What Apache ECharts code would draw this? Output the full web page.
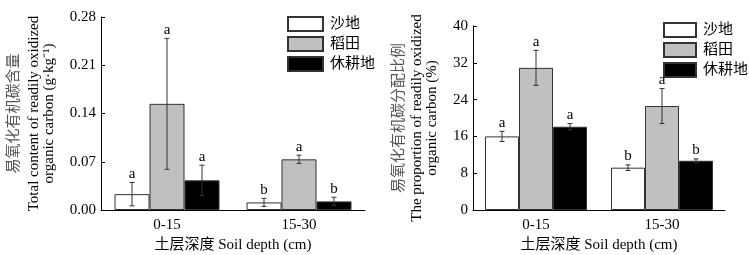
<!DOCTYPE html>
<html>
<head>
<meta charset="utf-8">
<script src="https://cdn.jsdelivr.net/npm/echarts@6/dist/echarts.min.js"></script>
<style>
  body { margin: 0; background: #fff; }
  #wrap { width: 749px; height: 255px; position: relative; }
  #hlyt, #blzb { position: absolute; top: 0; height: 255px; }
  #hlyt { left: 0; width: 380px; }
  #blzb { left: 380px; width: 369px; }
</style>
</head>
<body>
<div id="wrap">
  <div id="hlyt"></div>
  <div id="blzb"></div>
</div>
<script>
// data (per land type, per depth)
const depths = ["0-15", "15-30"];
const landTypes = ["沙地", "稻田", "休耕地"];
const contentMean = [[0.023, 0.011], [0.154, 0.0735], [0.043, 0.0125]];
const contentErr = [[0.017, 0.006], [0.095, 0.006], [0.022, 0.006]];
const contentLetters = [["a", "b"], ["a", "a"], ["a", "b"]];
const ratioMean = [[16.0, 9.2], [30.9, 22.6], [18.1, 10.7]];
const ratioErr = [[1.1, 0.6], [3.8, 3.8], [0.7, 0.4]];
const ratioLetters = [["a", "b"], ["a", "a"], ["a", "b"]];
const contentTicks = [0, 0.28, 0.07];
const ratioTicks = [0, 40, 8];

const FONT = "'Liberation Serif', 'Noto Sans CJK SC', serif";
const fills = ["#ffffff", "#c0c0c0", "#000000"];

function makeOption(cfg) {
  let series = [];
  landTypes.forEach((name, k) => {
    series.push({
      name: name,
      type: "bar",
      barWidth: cfg.barW,
      barGap: "0%",
      itemStyle: { color: fills[k], borderColor: "#333", borderWidth: 1 },
      data: cfg.mean[k],
    });
  });
  landTypes.forEach((name, k) => {
    series.push({
      type: "custom",
      silent: true,
      z: 5,
      data: depths.map((d, i) => [i, cfg.mean[k][i], cfg.err[k][i]]),
      renderItem(params, api) {
        let i = api.value(0);
        let m = api.value(1);
        let e = api.value(2);
        let x = api.coord([i, m])[0] + (k - 1) * cfg.barW;
        let yt = api.coord([i, m + e])[1];
        let yb = api.coord([i, m - e])[1];
        let st = { stroke: "#333", lineWidth: 1 };
        return {
          type: "group",
          children: [
            { type: "line", shape: { x1: x, y1: yt, x2: x, y2: yb }, style: st },
            { type: "line", shape: { x1: x - 2.5, y1: yt, x2: x + 2.5, y2: yt }, style: st },
            { type: "line", shape: { x1: x - 2.5, y1: yb, x2: x + 2.5, y2: yb }, style: st },
            {
              type: "text",
              style: {
                text: cfg.letters[k][params.dataIndex],
                x: x,
                y: yt - 1,
                align: "center",
                verticalAlign: "bottom",
                font: "15px " + FONT,
                fill: "#000",
              },
            },
          ],
        };
      },
    });
  });
  return {
    animation: false,
    textStyle: { fontFamily: FONT },
    legend: {
      data: landTypes,
      orient: "vertical",
      left: cfg.legendLeft,
      top: cfg.legendTop,
      padding: 0,
      icon: "rect",
      itemWidth: cfg.legendW,
      itemHeight: 14,
      itemGap: 4,
      textStyle: { fontSize: 15, color: "#000", fontFamily: FONT, padding: [0, 0, 0, 2] },
    },
    grid: Object.assign({ outerBoundsMode: "none" }, cfg.grid),
    xAxis: {
      type: "category",
      data: depths,
      name: "土层深度 Soil depth (cm)",
      nameLocation: "middle",
      nameGap: 25,
      nameTextStyle: { fontSize: 15, color: "#000", fontFamily: FONT },
      axisLine: { lineStyle: { color: "#000", width: 1 } },
      axisTick: { inside: true, length: 3, lineStyle: { color: "#000" } },
      axisLabel: { fontSize: 15, color: "#000", margin: 8, fontFamily: FONT },
    },
    yAxis: {
      type: "value",
      min: cfg.ticks[0],
      max: cfg.ticks[1],
      interval: cfg.ticks[2],
      name: cfg.yName,
      nameLocation: "middle",
      nameRotate: 90,
      nameGap: cfg.nameGap,
      nameTextStyle: {
        fontFamily: FONT,
        rich: {
          cn: { fontSize: 15, color: "#555", lineHeight: cfg.cnLine, fontFamily: FONT },
          en: { fontSize: 15, color: "#000", lineHeight: 15, fontFamily: FONT },
        },
      },
      splitLine: { show: false },
      axisLine: { show: true, lineStyle: { color: "#000", width: 1 } },
      axisTick: { show: true, inside: true, length: 4, lineStyle: { color: "#000" } },
      axisLabel: {
        fontSize: 15,
        color: "#000",
        margin: 5,
        fontFamily: FONT,
        formatter: cfg.fmt,
      },
    },
    series: series,
  };
}

let c1 = echarts.init(document.getElementById("hlyt"));
c1.setOption(makeOption({
  mean: contentMean, err: contentErr, letters: contentLetters,
  ticks: contentTicks, barW: 35, legendW: 35,
  grid: { left: 101, top: 17, width: 264, height: 193 },
  legendLeft: 287, legendTop: 16,
  yName: "{cn|易氧化有机碳含量}\n{en|Total content of readily oxidized}\n{en|organic carbon (g·kg⁻¹)}",
  nameGap: 44, cnLine: 25,
  fmt: (v) => v.toFixed(2),
}));

let c2 = echarts.init(document.getElementById("blzb"));
c2.setOption(makeOption({
  mean: ratioMean, err: ratioErr, letters: ratioLetters,
  ticks: ratioTicks, barW: 34, legendW: 32,
  grid: { left: 93, top: 26, width: 252, height: 184 },
  legendLeft: 283, legendTop: 22,
  yName: "{cn|易氧化有机碳分配比例}\n{en|The proportion of readily oxidized}\n{en|organic carbon (%)}",
  nameGap: 33, cnLine: 21,
  fmt: (v) => String(v),
}));
</script>
</body>
</html>
